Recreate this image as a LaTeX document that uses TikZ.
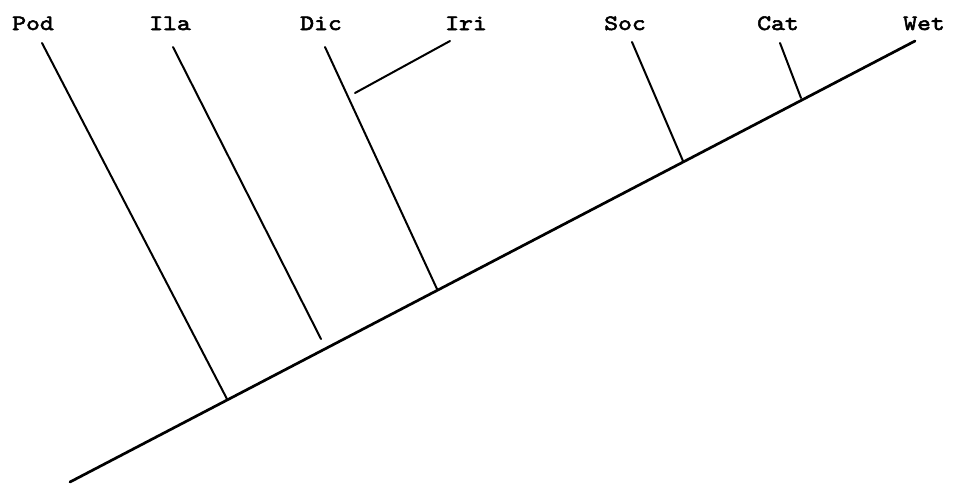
\documentclass[tikz,border=0pt]{standalone}
\usepackage{fontspec}
% heavy, slightly widened slab-serif typewriter face for the taxon names
\newfontfamily\taxonfont{lmmono10-regular.otf}[FakeBold=2.6, FakeStretch=1.2]
\tikzset{
  taxon/.style={font=\taxonfont\fontsize{22}{22}\selectfont, anchor=base, inner sep=0pt},
  spine/.style={line width=2.7pt, line cap=round},
  branch/.style={line width=2pt, line cap=round}
}
\begin{document}
\begin{tikzpicture}[x=1pt,y=-1pt]
  \useasboundingbox (0,0) rectangle (958,485);

  % taxon labels
  \node[taxon] (pod) at (33,30) {Pod};
  \node[taxon] (ila) at (170,30) {Ila};
  \node[taxon] (dic) at (321,30) {Dic};
  \node[taxon] (iri) at (466,30) {Iri};
  \node[taxon] (soc) at (625,30) {Soc};
  \node[taxon] (cat) at (778,30) {Cat};
  \node[taxon] (wet) at (924,30) {Wet};

  % branch points
  \coordinate (root) at (70,482);
  \coordinate (wettip) at (915,41);
  \coordinate (podtop) at (42,43);
  \coordinate (podbase) at (227,399);
  \coordinate (ilatop) at (173,47);
  \coordinate (ilabase) at (321,339);
  \coordinate (dictop) at (325,47);
  \coordinate (dicbase) at (437,289);
  \coordinate (iritop) at (450,41);
  \coordinate (iribase) at (355,93);
  \coordinate (soctop) at (632,42);
  \coordinate (socbase) at (683,161);
  \coordinate (cattop) at (780,43);
  \coordinate (catbase) at (801,98);

  % main axis of the tree
  \draw[spine] (root) -- (wettip);

  % side branches
  \draw[branch] (podtop) -- (podbase);
  \draw[branch] (ilatop) -- (ilabase);
  \draw[branch] (dictop) -- (dicbase);
  \draw[branch] (iritop) -- (iribase);
  \draw[branch] (soctop) -- (socbase);
  \draw[branch] (cattop) -- (catbase);
\end{tikzpicture}
\end{document}
